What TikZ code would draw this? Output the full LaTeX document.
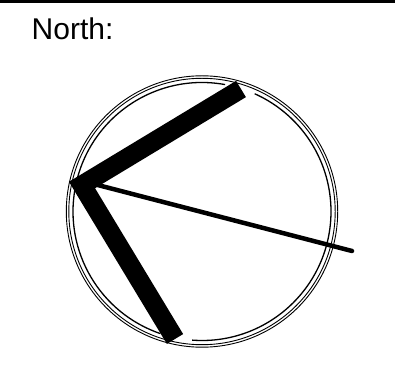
\documentclass[tikz,border=0pt]{standalone}
\usepackage{fontspec}
\setmainfont{Liberation Sans}
\tikzset{
  ring/.style={line width=0.9pt},
  innerring/.style={line width=1.3pt},
  thickhand/.style={line width=19pt, line cap=butt, line join=miter},
  thinhand/.style={line width=4.5pt, line cap=round}
}
\begin{document}
\begin{tikzpicture}[x=1pt,y=1pt]
\useasboundingbox (0,0) rectangle (395,369);
\fill[black] (0,366) rectangle (395,369);
\node[anchor=base west, inner sep=0pt, font=\fontsize{30}{32}\selectfont] (title) at (31.5,329) {North:};
\coordinate (C) at (202,157.5);
\draw[ring] (C) circle[radius=135.7pt];
\draw[ring] (C) circle[radius=133.2pt];
\draw[innerring] (C) ++(79.7:129pt) arc[start angle=79.7, end angle=251.2, radius=129pt];
\draw[innerring] (C) ++(265.6:129pt) arc[start angle=265.6, end angle=425.9, radius=129pt];
\coordinate (S) at (90,186);
\coordinate (E) at (352,118);
\draw[thinhand] (S) -- (E);
\coordinate (A) at (241,280);
\coordinate (V) at (82,184);
\coordinate (B) at (175,30);
\draw[thickhand] (A) -- (V) -- (B);
\end{tikzpicture}
\end{document}
